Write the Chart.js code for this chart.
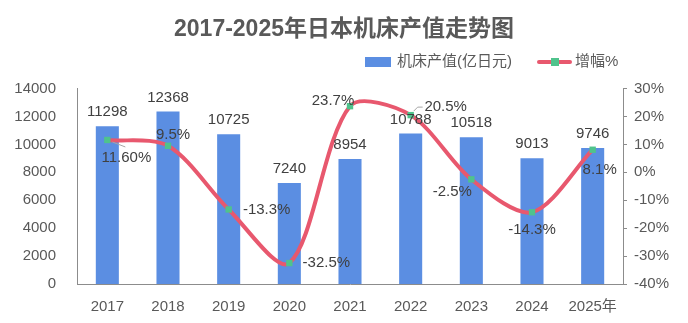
<!DOCTYPE html>
<html>
<head>
<meta charset="utf-8">
<script src="https://cdn.jsdelivr.net/npm/chart.js@4/dist/chart.umd.min.js"></script>
<style>
  body { margin: 0; background: #fff; }
  #wrap { width: 688px; height: 323px; }
</style>
</head>
<body>
<div id="wrap"><canvas id="graph" width="688" height="323"></canvas></div>
<script>
// data
const years = ["2017", "2018", "2019", "2020", "2021", "2022", "2023", "2024", "2025年"];
const output = [11298, 12368, 10725, 7240, 8954, 10788, 10518, 9013, 9746];
const growth = [11.6, 9.5, -13.3, -32.5, 23.7, 20.5, -2.5, -14.3, 8.1];
const growthText = ["11.60%", "9.5%", "-13.3%", "-32.5%", "23.7%", "20.5%", "-2.5%", "-14.3%", "8.1%"];

// where each % label sits relative to its point (label centre)
const growthLabelShift = [[19, 18], [5, -11], [38, 0], [37, 0], [-17, -5], [35, -8], [-19, 13], [0, 18], [7, 20]];
const leaderFor = [true, false, false, false, false, true, false, false, false];

const FONT = '"Liberation Sans", Arial, "Noto Sans CJK SC", sans-serif';
const barColor = "#5b8ee2";
const lineColor = "#e8586e";
const dotColor = "#4fc38c";
const textColor = "#595959";
const axisColor = "#8c8c8c";

const labelsPlugin = {
    id: "labels",
    afterDatasetsDraw(chart) {
        const ctx = chart.ctx;
        ctx.save();
        ctx.font = "15px " + FONT;
        ctx.fillStyle = "#404040";
        ctx.textAlign = "center";
        ctx.textBaseline = "middle";
        // bar values
        chart.getDatasetMeta(0).data.forEach((bar, i) => {
            ctx.fillText(String(output[i]), bar.x, bar.y - 14);
        });
        // growth values
        chart.getDatasetMeta(1).data.forEach((pt, i) => {
            const [dx, dy] = growthLabelShift[i];
            if (leaderFor[i]) {
                ctx.strokeStyle = "#a6a6a6";
                ctx.lineWidth = 1;
                ctx.beginPath();
                if (i === 0) {
                    ctx.moveTo(pt.x + 5, pt.y + 2);
                    ctx.lineTo(pt.x + 18, pt.y + 7);
                } else {
                    ctx.moveTo(pt.x + 3, pt.y - 4);
                    ctx.lineTo(pt.x + 7, pt.y - 8);
                    ctx.lineTo(pt.x + 12, pt.y - 8);
                }
                ctx.stroke();
            }
            ctx.fillText(growthText[i], pt.x + dx, pt.y + dy);
        });
        ctx.restore();
    },
    afterDraw(chart) {
        // legend
        const ctx = chart.ctx;
        ctx.save();
        ctx.font = "15px " + FONT;
        ctx.textBaseline = "middle";
        ctx.fillStyle = textColor;
        const y = 62;
        let x = 365;
        ctx.fillStyle = barColor;
        ctx.fillRect(x, y - 5, 26, 10);
        ctx.fillStyle = textColor;
        ctx.fillText(chart.data.datasets[0].label, x + 32, y);
        x = 539;
        ctx.strokeStyle = lineColor;
        ctx.lineWidth = 4;
        ctx.lineCap = "round";
        ctx.beginPath();
        ctx.moveTo(x, y);
        ctx.lineTo(x + 31, y);
        ctx.stroke();
        ctx.fillStyle = dotColor;
        ctx.fillRect(x + 12, y - 4, 8, 8);
        ctx.fillStyle = textColor;
        ctx.fillText(chart.data.datasets[1].label, x + 36, y);
        ctx.restore();
    }
};

const ctx = document.getElementById("graph").getContext("2d");

let myChart = new Chart(ctx, {
    type: "bar",
    data: {
        labels: years,
        datasets: [
            {
                type: "bar",
                label: "机床产值(亿日元)",
                data: output,
                backgroundColor: barColor,
                yAxisID: "y",
                order: 1,
                barPercentage: 0.38,
                categoryPercentage: 1
            },
            {
                type: "line",
                label: "增幅%",
                data: growth,
                borderColor: lineColor,
                borderWidth: 4,
                tension: 0.3,
                pointStyle: "rect",
                pointRadius: 4.5,
                pointBackgroundColor: dotColor,
                pointBorderWidth: 0,
                yAxisID: "y1",
                order: 0,
                clip: false
            }
        ]
    },
    options: {
        responsive: false,
        animation: false,
        layout: { padding: 0 },
        plugins: {
            legend: { display: false },
            tooltip: { enabled: false },
            title: {
                display: true,
                text: "2017-2025年日本机床产值走势图",
                color: textColor,
                font: { family: FONT, size: 23, weight: "bold" },
                padding: { top: 16, bottom: 45 }
            }
        },
        scales: {
            x: {
                grid: { display: false },
                border: { display: true, color: axisColor },
                ticks: { color: textColor, font: { family: FONT, size: 15 }, padding: 6 },
                afterFit(s) { s.height = 39; }
            },
            y: {
                position: "left",
                min: 0,
                max: 14000,
                grid: { display: false },
                border: { display: true, color: axisColor },
                ticks: {
                    stepSize: 2000,
                    color: textColor,
                    font: { family: FONT, size: 15 },
                    padding: 13,
                    callback: (v) => String(v)
                },
                afterFit(s) { s.width = 77; }
            },
            y1: {
                position: "right",
                min: -40,
                max: 30,
                grid: { display: true, drawOnChartArea: false, drawTicks: true, tickLength: 4, color: axisColor },
                border: { display: true, color: axisColor },
                ticks: {
                    stepSize: 10,
                    color: textColor,
                    font: { family: FONT, size: 15 },
                    padding: 7,
                    callback: (v) => v + "%"
                },
                afterFit(s) { s.width = 65; }
            }
        }
    },
    plugins: [labelsPlugin]
});
</script>
</body>
</html>
